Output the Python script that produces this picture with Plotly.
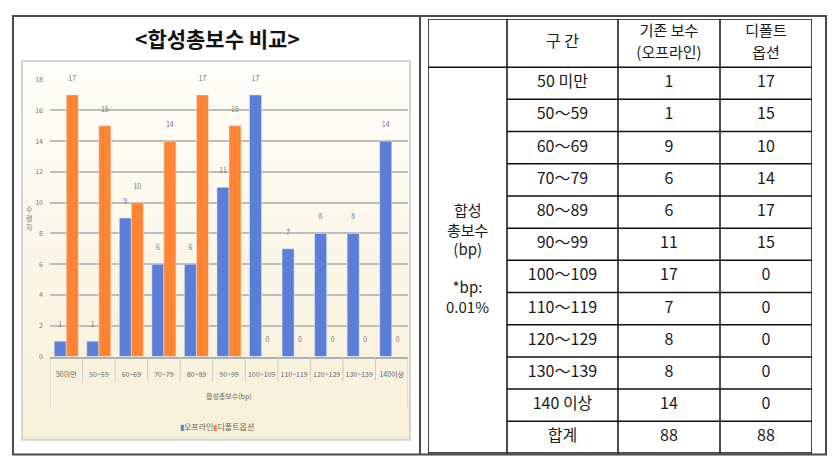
import plotly.graph_objects as go

W, H = 839, 471
PAGE = 8  # default page margin around the plot div

# chart data
categories = ['50미만', '50~59', '60~69', '70~79', '80~89', '90~99',
              '100~109', '110~119', '120~129', '130~139', '140이상']
offline = [1, 1, 9, 6, 6, 11, 17, 7, 8, 8, 14]
default_opt = [17, 15, 10, 14, 17, 15, 0, 0, 0, 0, 0]

# table data
table_bins = ['50 미만', '50～59', '60～69', '70～79', '80～89', '90～99',
              '100～109', '110～119', '120～129', '130～139', '140 이상', '합계']
table_offline = ['1', '1', '9', '6', '6', '11', '17', '7', '8', '8', '14', '88']
table_default = ['17', '15', '10', '14', '17', '15', '0', '0', '0', '0', '0', '88']
header_top = ['구 간', '기존 보수', '디폴트']
header_bottom = ['', '(오프라인)', '옵션']

BLUE = '#5b7fd6'
ORANGE = '#ff8433'
KR = 'Noto Sans CJK KR'


# screen pixel -> paper fraction (the div sits PAGE px in from the corner)
def px_x(p):
    return (p - PAGE) / W


def px_y(p):
    return 1 - (p - PAGE) / H


fig = go.Figure()

# bars
for name, vals, col in [('오프라인', offline, BLUE), ('디폴트옵션', default_opt, ORANGE)]:
    fig.add_trace(go.Bar(
        x=categories, y=vals, name=name, marker_color=col,
        text=vals, texttemplate='%{y}<br> ', textposition='outside',
        textfont=dict(size=7, color='#777', family=KR),
        constraintext='none', cliponaxis=False, hoverinfo='skip',
        showlegend=False,
    ))

# table, drawn on its own hidden axes (row i spans i..i+1, header spans -HDR..0)
HDR = 1.5
n_rows = len(table_bins)
col_edges = [0, 79, 190, 292, 384]
col_mid = [(a + b) / 2 for a, b in zip(col_edges[:-1], col_edges[1:])]
rows_y = [i + 0.5 for i in range(n_rows)]
tfont = dict(size=16, color='#1a1a1a', family=KR)
hfont = dict(size=15, color='#1a1a1a', family=KR)

for ci, col_vals in enumerate([table_bins, table_offline, table_default]):
    fig.add_trace(go.Scatter(
        x=[col_mid[ci + 1]] * n_rows, y=rows_y, text=col_vals, mode='text',
        textfont=tfont, xaxis='x2', yaxis='y2', showlegend=False, hoverinfo='skip',
    ))

# header: single line for 구 간, two lines for the others
fig.add_trace(go.Scatter(
    x=col_mid[1:2], y=[-HDR / 2], text=header_top[:1], mode='text',
    textfont=tfont, xaxis='x2', yaxis='y2', showlegend=False, hoverinfo='skip',
))
fig.add_trace(go.Scatter(
    x=col_mid[2:], y=[-HDR + 0.4] * 2, text=header_top[1:], mode='text',
    textfont=hfont, xaxis='x2', yaxis='y2', showlegend=False, hoverinfo='skip',
))
fig.add_trace(go.Scatter(
    x=col_mid[2:], y=[-HDR + 1.1] * 2, text=header_bottom[1:], mode='text',
    textfont=hfont, xaxis='x2', yaxis='y2', showlegend=False, hoverinfo='skip',
))

shapes = []

# chart area background (soft vertical gradient)
top_c, bot_c = (254, 253, 249), (247, 240, 215)
steps = 30
y_top, y_bot = 56, 443
for s in range(steps):
    t = s / (steps - 1)
    c = tuple(round(top_c[k] + (bot_c[k] - top_c[k]) * t) for k in range(3))
    y0 = y_top + (y_bot - y_top) * s / steps
    y1 = y_top + (y_bot - y_top) * (s + 1) / steps
    shapes.append(dict(type='rect', xref='paper', yref='paper', layer='below',
                       x0=px_x(22), x1=px_x(410), y0=px_y(y1), y1=px_y(y0),
                       fillcolor='rgb(%d,%d,%d)' % c, line=dict(width=0)))
shapes.append(dict(type='rect', xref='paper', yref='paper', layer='below',
                   x0=px_x(22), x1=px_x(410), y0=px_y(443), y1=px_y(56),
                   line=dict(color='#d4d4d4', width=2)))

# category separators under the x axis
for i in range(len(categories) + 1):
    edge = i in (0, len(categories))
    shapes.append(dict(type='line', xref='x', yref='paper',
                       x0=i - 0.5, x1=i - 0.5, y0=px_y(358), y1=px_y(410 if edge else 383),
                       line=dict(color='#c8c8c8', width=1)))

# frames
shapes.append(dict(type='rect', xref='paper', yref='paper',
                   x0=px_x(13), x1=px_x(826), y0=px_y(458), y1=px_y(10),
                   line=dict(color='#4a4a4a', width=2)))
shapes.append(dict(type='line', xref='paper', yref='paper',
                   x0=px_x(420), x1=px_x(420), y0=px_y(458), y1=px_y(10),
                   line=dict(color='#4a4a4a', width=2)))

# table grid
for xe in col_edges:
    shapes.append(dict(type='line', xref='x2', yref='y2', x0=xe, x1=xe,
                       y0=-HDR, y1=n_rows, line=dict(color='#111', width=1.5)))
shapes.append(dict(type='line', xref='x2', yref='y2', x0=0, x1=col_edges[-1],
                   y0=-HDR, y1=-HDR, line=dict(color='#111', width=1.5)))
shapes.append(dict(type='line', xref='x2', yref='y2', x0=0, x1=col_edges[-1],
                   y0=0, y1=0, line=dict(color='#111', width=1.5)))
for r in range(1, n_rows):
    shapes.append(dict(type='line', xref='x2', yref='y2', x0=col_edges[1], x1=col_edges[-1],
                       y0=r, y1=r, line=dict(color='#111', width=1.5)))
shapes.append(dict(type='line', xref='x2', yref='y2', x0=0, x1=col_edges[-1],
                   y0=n_rows, y1=n_rows, line=dict(color='#111', width=2.5)))

legend_text = ('<span style="color:%s">▮</span>오프라인'
               '<span style="color:%s">▮</span>디폴트옵션' % (BLUE, ORANGE))

annotations = [
    dict(text='<b>&lt;합성총보수 비교&gt;</b>', x=px_x(217), y=px_y(33),
         xref='paper', yref='paper', xanchor='center', yanchor='middle', showarrow=False,
         font=dict(size=21, color='#111', family=KR)),
    dict(text='합성총보수(bp)', x=px_x(229), y=px_y(398),
         xref='paper', yref='paper', xanchor='center', yanchor='middle', showarrow=False,
         font=dict(size=7, color='#666', family=KR)),
    dict(text=legend_text, x=px_x(217), y=px_y(429),
         xref='paper', yref='paper', xanchor='center', yanchor='middle', showarrow=False,
         font=dict(size=8, color='#666', family=KR)),
    dict(text='수<br>령<br>자', x=px_x(29), y=px_y(216),
         xref='paper', yref='paper', xanchor='center', yanchor='middle', showarrow=False,
         font=dict(size=7, color='#777', family=KR)),
    dict(text='합성<br>총보수<br>(bp)', x=col_mid[0], y=5.03, xref='x2', yref='y2',
         showarrow=False, font=dict(size=15, color='#1a1a1a', family=KR)),
    dict(text='*bp:<br>0.01%', x=col_mid[0], y=7.13, xref='x2', yref='y2',
         showarrow=False, font=dict(size=15, color='#1a1a1a', family=KR)),
]

fig.update_layout(
    width=W, height=H, margin=dict(l=0, r=0, t=0, b=0),
    paper_bgcolor='white', plot_bgcolor='rgba(0,0,0,0)',
    barmode='group', bargap=0.26, bargroupgap=0,
    font=dict(family=KR), showlegend=False,
    xaxis=dict(domain=[px_x(50), px_x(408)], type='category', range=[-0.5, 10.5],
               showline=True, linecolor='#b0b0b0', linewidth=1.5, ticks='',
               tickfont=dict(size=7, color='#666'), ticklabelstandoff=10,
               showgrid=False, fixedrange=True),
    yaxis=dict(domain=[px_y(358), px_y(75)], range=[0, 18], dtick=2,
               showgrid=True, gridcolor='#bdbdbd', gridwidth=1.5, zeroline=False,
               tickfont=dict(size=7, color='#777'), ticklabelstandoff=6,
               fixedrange=True),
    xaxis2=dict(domain=[px_x(428), px_x(812)], range=[0, col_edges[-1]], visible=False),
    yaxis2=dict(domain=[px_y(457), px_y(13)], range=[n_rows, -HDR], visible=False),
    shapes=shapes, annotations=annotations,
)

fig.write_html('out.html')
